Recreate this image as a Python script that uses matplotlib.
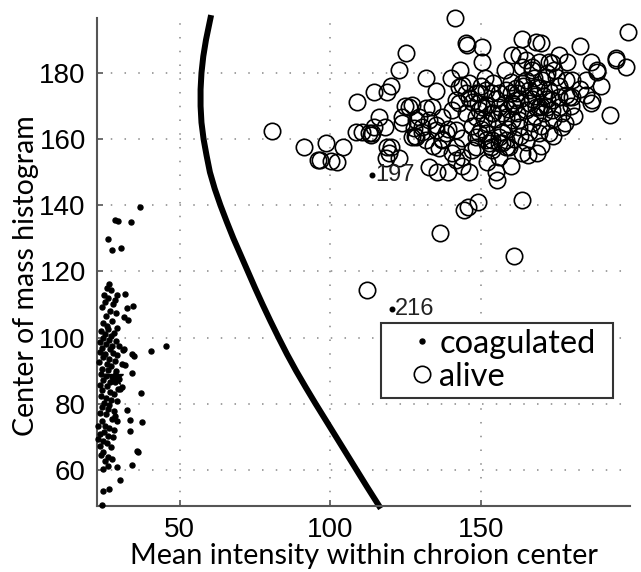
import matplotlib
matplotlib.use('Agg')
import matplotlib.pyplot as plt
import numpy as np

# coagulated points (mean intensity, center of mass)
coag = [
    (36.8, 139.6), (28.5, 135.4), (29.5, 135.2), (33.8, 134.8), (26.2, 129.9), (27.5, 126.6), (30.5, 127.2),
    (26.5, 116.2), (25.8, 115.0), (27.2, 114.3), (24.8, 113.0), (26.0, 112.1), (28.4, 111.5), (25.3, 110.8),
    (27.8, 110.2), (29.0, 112.8), (31.8, 113.3), (34.4, 109.7), (32.4, 108.8), (24.2, 109.4), (26.8, 108.0),
    (28.8, 107.4), (25.5, 106.6), (31.5, 106.1), (32.8, 105.2), (27.6, 105.0), (24.6, 104.4),
    (25.8, 103.4), (26.2, 102.5), (29.2, 102.8), (23.8, 101.9), (25.0, 101.2), (27.1, 100.6), (28.3, 101.5),
    (24.4, 100.0), (26.4, 99.4), (28.9, 99.0), (23.4, 98.6), (25.6, 98.1), (27.5, 97.6), (29.8, 97.4),
    (24.1, 97.0), (26.7, 96.5), (45.4, 97.6), (31.5, 96.7), (40.4, 95.8), (31.1, 96.4), (34.1, 94.9), (34.8, 94.3),
    (23.6, 95.6), (25.3, 95.0), (27.9, 95.3), (29.3, 94.6), (24.5, 94.0), (26.6, 93.4), (28.6, 92.9),
    (23.2, 92.5), (25.8, 92.0), (30.8, 91.9), (31.8, 91.6), (27.3, 91.3), (24.3, 90.6), (26.1, 90.1),
    (28.9, 89.8), (34.1, 89.2), (23.7, 89.0), (25.4, 88.5), (27.4, 88.0), (29.9, 87.6), (24.6, 87.1),
    (26.8, 86.6), (28.5, 86.5), (30.8, 85.0), (23.4, 85.8), (25.7, 85.3), (29.5, 84.4), (30.1, 84.4),
    (37.1, 83.2), (24.2, 84.2), (26.9, 83.7),
    (28.1, 82.9), (23.9, 82.4), (25.5, 81.8), (27.3, 81.2), (29.0, 80.7), (24.8, 80.2), (26.4, 79.6),
    (24.2, 78.9), (26.2, 78.3), (32.5, 78.0), (28.0, 77.8), (23.5, 77.2), (25.6, 76.8), (28.5, 76.2),
    (27.5, 75.3), (29.2, 74.7), (33.4, 75.0), (37.4, 74.4), (24.0, 74.9), (25.2, 73.2), (22.8, 73.4),
    (26.6, 72.8), (33.4, 71.7), (28.3, 72.2), (24.7, 71.5), (23.4, 70.9), (26.0, 70.4), (27.7, 69.9),
    (23.0, 69.3), (24.6, 68.6), (25.9, 68.0), (23.6, 67.2), (27.0, 66.9), (24.5, 65.4), (35.8, 65.7),
    (36.1, 65.4), (26.2, 63.9), (27.5, 63.3), (23.8, 64.5), (25.3, 62.7), (29.2, 60.8), (26.2, 61.1),
    (34.1, 61.4), (24.4, 60.4), (30.1, 56.9), (26.5, 54.2), (24.5, 53.6), (24.2, 49.3),
]
coag_x = [p[0] for p in coag]
coag_y = [p[1] for p in coag]
coag_mean = (28.5, 88.0)

# alive points
alive = [
    (141.4, 196.6), (198.8, 192.4), (125.2, 186.0), (145.0, 189.0), (145.4, 188.4), (150.2, 187.8),
    (150.2, 183.3), (163.6, 190.2), (168.2, 189.3), (170.0, 189.0), (160.3, 185.4), (162.6, 185.4),
    (182.8, 188.1), (175.8, 185.4), (178.5, 183.3), (186.4, 183.3), (188.7, 181.0), (188.4, 180.2),
    (194.7, 184.5), (195.0, 183.9), (198.3, 181.8), (122.8, 180.8), (131.8, 178.5), (135.1, 174.6),
    (140.0, 178.4), (143.0, 181.0), (143.7, 176.4), (151.4, 178.6), (114.6, 174.3), (118.9, 174.2),
    (120.2, 175.9), (108.7, 171.3), (124.8, 170.0), (127.2, 170.3), (131.8, 169.4), (141.7, 171.9),
    (146.0, 172.5), (148.3, 174.0), (116.2, 166.7), (118.3, 163.7), (108.6, 162.2), (112.9, 161.9),
    (113.6, 161.3), (98.7, 158.9), (104.3, 157.7), (96.4, 153.8), (100.3, 153.5), (102.3, 153.2),
    (80.5, 162.5), (91.4, 157.7), (96.0, 153.8), (118.7, 157.5), (120.2, 157.7), (119.5, 155.9),
    (118.5, 154.2), (122.8, 154.4), (132.8, 151.6), (135.4, 150.1), (143.7, 152.0), (155.3, 147.5),
    (144.4, 138.7), (145.8, 139.6), (148.9, 140.9), (163.6, 141.7), (136.4, 131.7), (160.9, 124.8),
    (112.3, 114.5), (163.6, 155.9), (165.6, 155.3), (168.5, 155.9), (176.8, 163.7), (172.5, 161.9),
    (193.0, 167.3), (186.4, 170.9), (184.8, 173.4), (147.0, 156.8), (148.3, 157.7), (153.3, 157.7),
    (155.9, 158.9), (158.3, 157.7), (140.4, 155.9), (141.7, 157.7), (163.6, 181.8), (166.9, 181.8),
    (169.2, 183.3), (172.5, 183.3), (174.2, 181.0), (174.8, 178.8), (178.1, 177.9), (180.1, 177.9),
    (164.9, 177.9), (167.5, 178.5), (170.2, 177.9), (159.9, 177.3), (161.6, 175.5), (186.8, 171.9),
    (175.8, 172.8), (178.1, 173.4), (180.1, 172.8), (165.9, 174.9), (169.2, 175.5), (172.5, 174.9),
    (156.0, 174.0), (151.7, 174.9), (149.3, 174.0), (156.0, 154.7), (136.1, 157.4), (131.8, 159.8),
    (127.2, 160.7), (123.8, 164.9), (126.2, 169.7), (130.5, 163.7), (132.8, 165.8), (135.1, 164.3),
    (138.4, 161.9), (141.7, 162.8), (143.7, 160.4), (148.3, 160.7), (151.7, 161.9), (153.6, 159.8),
    (157.0, 158.9), (159.3, 157.7), (145.0, 167.9), (149.3, 168.8), (153.6, 167.9), (158.3, 166.7),
    (162.6, 165.8), (166.9, 164.9), (142.7, 170.9), (147.0, 171.3), (151.7, 170.3), (156.0, 169.7),
    (160.3, 170.9), (164.9, 168.8), (169.2, 169.7), (173.5, 168.8), (133.8, 169.7), (129.5, 166.7),
    (155.0, 172.0), (158.0, 171.0), (161.0, 170.0), (163.0, 172.0), (166.0, 171.0), (168.0, 173.0),
    (170.0, 170.0), (172.0, 172.0), (160.0, 174.0), (164.0, 176.0), (168.0, 167.0), (171.0, 168.0),
    (157.0, 168.0), (162.0, 168.0), (128.0, 161.0), (134.0, 158.0), (137.0, 160.0), (139.0, 163.0),
    (110.6, 162.2), (114.6, 163.7), (127.8, 163.4), (128.5, 160.7), (152.6, 158.9), (158.3, 159.8),
    (162.6, 163.7), (169.2, 161.9), (171.9, 169.7), (173.5, 171.9), (175.8, 169.7), (179.1, 172.8),
    (166.9, 181.0), (171.5, 178.8), (173.5, 183.0), (163.6, 177.0), (168.2, 175.8), (161.6, 171.9),
    (168.2, 169.7), (160.3, 165.8), (148.3, 166.7), (150.3, 169.7), (137.1, 166.7), (140.4, 168.8),
    (142.7, 175.8), (145.0, 174.0), (153.6, 174.0), (158.3, 174.9), (123.8, 166.7), (128.5, 165.8),
    (130.5, 162.2), (135.1, 162.8), (137.1, 159.8), (149.3, 161.9), (151.7, 159.8), (153.6, 156.8),
    (156.0, 160.7), (143.7, 154.7), (141.7, 153.8), (113.9, 161.9),
    (152.0, 165.0), (155.0, 166.0), (159.0, 163.0), (163.0, 161.0), (166.0, 162.0), (170.0, 164.0),
    (174.0, 166.0), (177.0, 168.0), (180.0, 170.0), (183.0, 175.0), (176.0, 176.0), (172.0, 180.0),
    (165.0, 184.0), (158.0, 181.0), (154.0, 177.0), (150.0, 176.0), (146.0, 177.0), (147.0, 164.0),
    (150.0, 163.0), (157.0, 162.0), (161.0, 160.0), (165.0, 159.0), (170.0, 158.0), (174.0, 161.0),
    (178.0, 165.0), (181.0, 167.0), (185.0, 178.0), (190.0, 176.0), (155.0, 150.0), (152.0, 153.0),
    (146.0, 150.0), (139.0, 150.0), (160.0, 152.0), (171.0, 173.0), (167.0, 172.0), (162.0, 174.0),
    (159.0, 169.0), (154.0, 168.0), (151.0, 166.0), (149.0, 171.0),
]
alive_x = [p[0] for p in alive]
alive_y = [p[1] for p in alive]

# labelled outliers
outlier_x = [113.9, 120.5]
outlier_y = [149.2, 108.5]
outlier_labels = ['197', '216']

# decision boundary
bound_y = [196.6, 190, 185, 180, 175, 170, 165, 160, 155, 150, 145, 140, 135, 130, 125, 120,
           115, 110, 105, 100, 95, 90, 85, 80, 75, 70, 65, 60, 55, 49.1]
bound_x = [60.2, 58.7, 57.8, 57.2, 56.9, 56.9, 57.2, 57.9, 58.9, 60.0, 61.6, 63.5, 65.6, 67.8, 70.2, 72.6,
           75.0, 77.5, 80.1, 82.8, 85.6, 88.6, 91.8, 95.1, 98.5, 101.9, 105.3, 108.7, 112.1, 116.2]

fig = plt.figure(figsize=(6.41, 5.72), dpi=100)
ax = fig.add_axes([0.1513, 0.1154, 0.8315, 0.8531])

ax.plot(bound_x, bound_y, color='black', lw=4.3, solid_joinstyle='round', zorder=2, clip_on=False)
ax.plot(coag_x, coag_y, 'o', color='black', ms=3.6, ls='none', label='coagulated', zorder=3, clip_on=False)
ax.plot(*coag_mean, marker='*', color='black', ms=12, ls='none', zorder=3)
ax.plot(alive_x, alive_y, 'o', mfc='none', mec='black', mew=1.2, ms=11.8, ls='none',
        label='alive', zorder=3, clip_on=False)
ax.plot(outlier_x, outlier_y, 'o', color='black', ms=3.3, ls='none', zorder=3)
for x, y, t in zip(outlier_x, outlier_y, outlier_labels):
    ax.annotate(t, (x, y), xytext=(2, 0), textcoords='offset points', va='center', ha='left',
                fontsize=17, color='#222222', family='Liberation Sans')

ax.set_xlim(22.5, 199.5)
ax.set_ylim(49.1, 196.6)
ax.set_xticks([50, 100, 150])
ax.set_yticks([60, 80, 100, 120, 140, 160, 180])
ax.grid(True, color='#888888', linestyle=(0, (1, 8)), linewidth=1.1)
ax.set_axisbelow(True)

for s in ['top', 'right']:
    ax.spines[s].set_visible(False)
for s in ['left', 'bottom']:
    ax.spines[s].set_color('#555555')
    ax.spines[s].set_linewidth(1.5)
ax.tick_params(direction='in', length=4, width=1.2, color='#555555', labelsize=20, pad=8)
for lab in ax.get_xticklabels() + ax.get_yticklabels():
    lab.set_family('Liberation Sans')

ax.set_xlabel('Mean intensity within chroion center', fontsize=20.8, family='Lato', labelpad=0)
ax.set_ylabel('Center of mass histogram', fontsize=20.5, family='Lato')
ax.yaxis.set_label_coords(-0.108, 0.473)

leg = ax.legend(loc='upper left', bbox_to_anchor=(0.533, 0.221, 0.435, 0.154), mode='expand',
                fancybox=False, edgecolor='#333333', framealpha=1, handlelength=2.15,
                handletextpad=-0.55, borderpad=0.18, labelspacing=0.09, borderaxespad=0,
                prop={'family': 'Lato', 'size': 23.5})
leg.get_frame().set_linewidth(1.5)

fig.savefig('out.png', dpi=100)
